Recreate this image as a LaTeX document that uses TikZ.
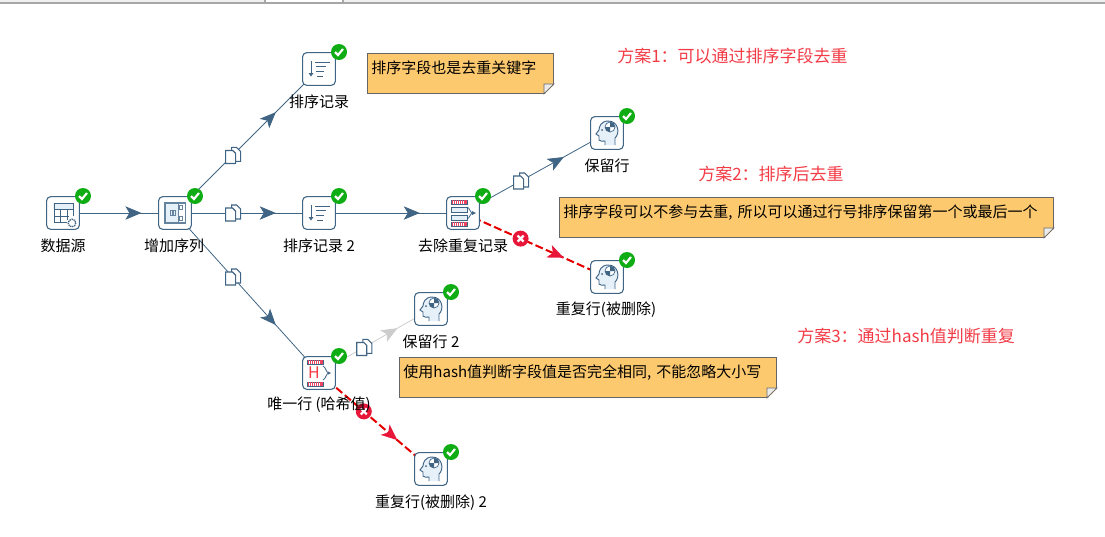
\documentclass[tikz,border=0pt]{standalone}
\usepackage{fontspec}
\setmainfont{Noto Sans CJK SC}
\usetikzlibrary{arrows.meta,backgrounds,calc,decorations.markings}
\definecolor{hopblue}{HTML}{3F6484}
\definecolor{iconpale}{HTML}{E6F0F8}
\definecolor{okgreen}{HTML}{10AC13}
\definecolor{failred}{HTML}{E8173A}
\definecolor{notefill}{HTML}{FDC96E}
\definecolor{planred}{HTML}{F23B45}
\newcommand{\widecolon}{\symbol{"FF1A}}
\tikzset{
  stepbox/.style={draw=hopblue, line width=0.8pt, fill=white, rounded corners=3pt, minimum size=24.5pt, inner sep=0pt},
  steplabel/.style={font=\fontsize{11.25}{13}\selectfont, inner sep=0pt},
  planlabel/.style={font=\fontsize{12.75}{15}\selectfont, text=planred, inner sep=0pt, anchor=west},
  notebox/.style={draw=black!60, line width=0.7pt, fill=notefill, anchor=north west, font=\fontsize{11.25}{13}\selectfont,
    inner xsep=3pt, inner ysep=0pt, text height=15pt, text depth=15pt, align=left},
  notefold/.style={draw=black!60, line width=0.6pt, fill=black!8},
  midtip/.style={postaction={decorate}, decoration={markings, mark=at position 0.7 with {\arrow{Stealth[length=12pt,width=10pt,inset=3pt,#1]}}}},
  hop/.style={draw=hopblue, line width=0.6pt, midtip={hopblue}},
  hopidle/.style={draw=black!20, line width=0.6pt, midtip={black!20}},
  hopfail/.style={draw=red!90!black, line width=1.5pt, dash pattern=on 6pt off 2.5pt, midtip={failred}},
  pics/okbadge/.style={code={
    \fill[okgreen] (20,-17) circle[radius=8];
    \draw[white, line width=1.6pt] (16,-17) -- (19,-14) -- (24,-20);
  }},
  pics/failbadge/.style={code={
    \fill[failred] (0,0) circle[radius=8];
    \draw[white, line width=1.7pt] (-3,-3) -- (3,3) (-3,3) -- (3,-3);
  }},
  pics/copyicon/.style={code={
    \draw[hopblue, line width=0.8pt, fill=white] (-1,-8) -- (4,-8) -- (8,-4) -- (8,6) -- (-1,6) -- cycle;
    \draw[hopblue, line width=0.9pt, fill=white] (-7,-5) -- (0,-5) -- (3,-2) -- (3,8) -- (-7,8) -- cycle;
  }},
  pics/tableicon/.style={code={
    \fill[iconpale] (-10,-10) rectangle (10,-4);
    \draw[hopblue, line width=0.6pt] (-9,-10) -- (10,-10) (-9,-10) -- (-9,9) -- (4,9) (10,-10) -- (10,3);
    \draw[hopblue, line width=0.4pt] (-9,-4) -- (10,-4) (-9,3) -- (6,3) (-3,-4) -- (-3,9) (4,-4) -- (4,7);
    \draw[hopblue, line width=1pt, fill=white, dash pattern=on 1pt off 0.6pt] (9,10) circle[radius=3.8];
  }},
  pics/seqicon/.style={code={
    \draw[hopblue!80, line width=1pt, fill=iconpale] (-10,-10) rectangle (10,10);
    \fill[white] (3,-9) rectangle (9.5,9);
    \draw[hopblue!80, line width=0.5pt] (3,-10) -- (3,10);
    \draw[hopblue!80, line width=0.6pt] (4.5,-8) rectangle (7.5,-4) (4.5,3) rectangle (7.5,7) (-5,-3) rectangle (-3,2) (-2,-3) rectangle (0,2);
  }},
  pics/sorticon/.style={code={
    \draw[hopblue, line width=0.7pt] (-8,-8) -- (-8,6);
    \fill[hopblue] (-10.5,4) -- (-5.5,4) -- (-8,7.5) -- cycle;
    \draw[hopblue, line width=0.7pt] (-4,-7) -- (11,-7) (-3,-3) -- (7,-3) (-3,2) -- (5,2) (-2,7) -- (4,7);
  }},
  pics/hatchbands/.style={code={
    \draw[hopblue, line width=0.6pt, fill=white] (-12,-13) rectangle (4,-9) (-12,9) rectangle (4,13);
    \draw[failred!80, line width=2.4pt, dash pattern=on 0.9pt off 0.7pt] (-11.5,-11) -- (3.5,-11) (-11.5,11) -- (3.5,11);
  }},
  pics/dedupicon/.style={code={
    \pic {hatchbands};
    \draw[hopblue, line width=0.6pt, fill=iconpale] (-12,-6) rectangle (4,-1) (-12,2) rectangle (4,7);
    \draw[hopblue, line width=0.6pt] (4,-6) .. controls (7,-5) and (7,0) .. (10,0) (4,6) .. controls (7,5) and (7,0) .. (10,0);
    \fill[hopblue] (9,-2) -- (13,0) -- (9,2) -- cycle;
  }},
  pics/hashicon/.style={code={
    \pic {hatchbands};
    \node[text=planred, inner sep=0pt, font=\fontsize{12}{12}\selectfont] (hashmark) at (-5,0) {H};
    \draw[hopblue, line width=0.6pt] (4,-7) .. controls (7,-6) and (7,0) .. (10,0) (4,7) .. controls (7,6) and (7,0) .. (10,0);
    \fill[hopblue] (9,-1.5) -- (12,0) -- (9,1.5) -- cycle;
  }},
  pics/headicon/.style={code={
    \draw[hopblue, line width=0.7pt, fill=iconpale] (8,12) -- (8,5) .. controls (13,1) and (12,-12) .. (1,-12)
      .. controls (-6,-12) and (-8,-6) .. (-8,-3) -- (-11,1) -- (-8,3) -- (-8,7) .. controls (-7,9) and (-4,8) .. (-2,8) -- (-2,12);
    \fill[white] (3,-6) circle[radius=5];
    \draw[hopblue, line width=0.5pt] (3,-6) circle[radius=5];
    \fill[hopblue] (3,-6) -- (3,-11) arc[start angle=270, end angle=360, radius=5] -- cycle;
    \fill[hopblue] (3,-6) -- (3,-1) arc[start angle=90, end angle=180, radius=5] -- cycle;
    \fill[hopblue] (-5,-3) circle[radius=1];
  }},
}
\begin{document}
\begin{tikzpicture}[x=0.75pt,y=-0.75pt]
  \useasboundingbox (0,0) rectangle (1105,536);
  \fill[black!6] (0,0) rectangle (1105,3);
  \fill[white] (265,0) rectangle (343,3);
  \draw[black!35, line width=0.8pt] (0,3) -- (1105,3) (265,0) -- (265,3) (343,0) -- (343,3);

  % steps
  \node[stepbox] (datasrc) at (63,213) {};
  \node[stepbox] (addseq) at (175,213) {};
  \node[stepbox] (sorttop) at (319,69) {};
  \node[stepbox] (sortmid) at (319,213) {};
  \node[stepbox] (dedup) at (463,213) {};
  \node[stepbox] (keeprow) at (607,133) {};
  \node[stepbox] (duprow) at (607,277) {};
  \node[stepbox] (keeprowb) at (431,309) {};
  \node[stepbox] (hashrow) at (319,373) {};
  \node[stepbox] (duprowb) at (431,469) {};

  % hops
  \begin{scope}[on background layer]
    \draw[hop] (datasrc.center) -- (addseq.center);
    \draw[hop] (addseq.center) -- (sorttop.center);
    \draw[hop] (addseq.center) -- (sortmid.center);
    \draw[hop] (addseq.center) -- (hashrow.center);
    \draw[hop] (sortmid.center) -- (dedup.center);
    \draw[hop] (dedup.center) -- (keeprow.center);
    \draw[hopfail] (dedup.center) -- (duprow.center);
    \draw[hopidle] (hashrow.center) -- (keeprowb.center);
    \draw[hopfail] (hashrow.center) -- (duprowb.center);
  \end{scope}
  \pic at ($(addseq)!0.4!(sorttop)$) {copyicon};
  \pic at ($(addseq)!0.4!(sortmid)$) {copyicon};
  \pic at ($(addseq)!0.4!(hashrow)$) {copyicon};
  \pic at ($(dedup)!0.4!(keeprow)$) {copyicon};
  \pic at ($(hashrow)!0.4!(keeprowb)$) {copyicon};
  \pic at ($(dedup)!0.4!(duprow)$) {failbadge};
  \pic at ($(hashrow)!0.4!(duprowb)$) {failbadge};

  % icons
  \pic at (datasrc) {tableicon};
  \pic at (addseq) {seqicon};
  \pic at (sorttop) {sorticon};
  \pic at (sortmid) {sorticon};
  \pic at (dedup) {dedupicon};
  \pic at (keeprow) {headicon};
  \pic at (duprow) {headicon};
  \pic at (keeprowb) {headicon};
  \pic at (hashrow) {hashicon};
  \pic at (duprowb) {headicon};
  \pic at (datasrc) {okbadge};
  \pic at (addseq) {okbadge};
  \pic at (sorttop) {okbadge};
  \pic at (sortmid) {okbadge};
  \pic at (dedup) {okbadge};
  \pic at (keeprow) {okbadge};
  \pic at (duprow) {okbadge};
  \pic at (keeprowb) {okbadge};
  \pic at (hashrow) {okbadge};
  \pic at (duprowb) {okbadge};

  % labels
  \node[steplabel] (datasrclabel) at (63,246) {数据源};
  \node[steplabel] (addseqlabel) at (174,246) {增加序列};
  \node[steplabel] (sorttoplabel) at (319,102) {排序记录};
  \node[steplabel] (sortmidlabel) at (319,246) {排序记录 2};
  \node[steplabel] (deduplabel) at (463,246) {去除重复记录};
  \node[steplabel] (keeprowlabel) at (607,166) {保留行};
  \node[steplabel] (duprowlabel) at (606,310) {重复行(被删除)};
  \node[steplabel] (keeprowblabel) at (431,342) {保留行 2};
  \node[steplabel] (hashrowlabel) at (319,405) {唯一行 (哈希值)};
  \node[steplabel] (duprowblabel) at (431,503) {重复行(被删除) 2};

  % notes
  \node[notebox, text width=133.5pt] (notea) at (367,53) {排序字段也是去重关键字};
  \node[notebox, text width=364.5pt] (noteb) at (559,197) {排序字段可以不参与去重, 所以可以通过行号排序保留第一个或最后一个};
  \node[notebox, text width=276.75pt] (notec) at (399,357) {使用hash值判断字段值是否完全相同, 不能忽略大小写};
  \fill[white] ($(notea.south east)+(-10,1)$) -- ++(11,0) -- ++(0,-11) -- cycle;
  \fill[white] ($(noteb.south east)+(-10,1)$) -- ++(11,0) -- ++(0,-11) -- cycle;
  \fill[white] ($(notec.south east)+(-10,1)$) -- ++(11,0) -- ++(0,-11) -- cycle;
  \draw[notefold] ($(notea.south east)+(-10,0)$) -- ++(0,-10) -- ++(10,0) -- cycle;
  \draw[notefold] ($(noteb.south east)+(-10,0)$) -- ++(0,-10) -- ++(10,0) -- cycle;
  \draw[notefold] ($(notec.south east)+(-10,0)$) -- ++(0,-10) -- ++(10,0) -- cycle;

  % plans
  \node[planlabel] (plana) at (617,56) {方案1\widecolon 可以通过排序字段去重};
  \node[planlabel] (planb) at (698,174) {方案2\widecolon 排序后去重};
  \node[planlabel] (planc) at (797,336) {方案3\widecolon 通过hash值判断重复};
\end{tikzpicture}
\end{document}
